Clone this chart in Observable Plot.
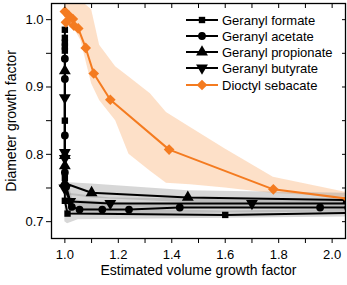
<!DOCTYPE html>
<html><head><meta charset="utf-8">
<script src="https://cdn.jsdelivr.net/npm/d3@7"></script>
<script src="https://cdn.jsdelivr.net/npm/@observablehq/plot@0.6"></script>
<style>html,body{margin:0;padding:0;background:#fff;}</style>
</head><body><div id="chart"></div>
<script>
// ---- data ----
const seriesNames = ["Geranyl formate","Geranyl acetate","Geranyl propionate","Geranyl butyrate","Dioctyl sebacate"];

const formateX = [1.0, 1.0, 1.0, 1.0, 1.0, 1.0, 1.0, 1.0, 1.01, 1.6, 2.06];
const formateY = [0.985, 0.973, 0.966, 0.96, 0.954, 0.85, 0.765, 0.731, 0.712, 0.710, 0.713];

const acetateX = [1.0, 1.0, 1.0, 1.0, 1.005, 1.026, 1.055, 1.14, 1.24, 1.43, 1.955, 2.06];
const acetateY = [0.942, 0.912, 0.828, 0.773, 0.752, 0.722, 0.718, 0.718, 0.718, 0.721, 0.721, 0.721];

const propionateX = [1.0, 1.0, 1.0, 1.0, 1.1, 1.46, 2.06];
const propionateY = [0.924, 0.798, 0.783, 0.757, 0.743, 0.736, 0.732];

const butyrateX = [1.0, 1.0, 1.0, 0.998, 1.02, 1.17, 1.70, 2.06];
const butyrateY = [0.884, 0.803, 0.794, 0.75, 0.73, 0.727, 0.727, 0.727];

const sebacateX = [1.0, 1.015, 1.03, 1.004, 1.034, 1.05, 1.078, 1.108, 1.17, 1.39, 1.78, 2.06];
const sebacateY = [1.012, 1.006, 1.001, 0.996, 0.991, 0.987, 0.958, 0.92, 0.881, 0.807, 0.748, 0.734];

// uncertainty bands
const sebBandX  = [1.0, 1.03, 1.06, 1.1, 1.13, 1.19, 1.24, 1.32, 1.38, 1.47, 1.6, 1.78, 2.06];
const sebBandLo = [0.99, 0.99, 0.969, 0.905, 0.88, 0.85, 0.80, 0.775, 0.757, 0.755, 0.75, 0.742, 0.736];
const sebBandHi = [1.03, 1.03, 1.028, 1.015, 0.962, 0.93, 0.915, 0.89, 0.862, 0.84, 0.808, 0.766, 0.743];

const formateBandX  = [1.0, 1.01, 1.05, 1.6, 2.06];
const formateBandLo = [0.70, 0.697, 0.703, 0.705, 0.707];
const formateBandHi = [0.74, 0.728, 0.72, 0.716, 0.718];
const acetateBandX  = [1.005, 1.03, 1.3, 1.96, 2.06];
const acetateBandLo = [0.735, 0.71, 0.712, 0.714, 0.714];
const acetateBandHi = [0.77, 0.732, 0.726, 0.728, 0.728];
const propBandX  = [1.0, 1.1, 1.46, 2.06];
const propBandLo = [0.74, 0.735, 0.728, 0.726];
const propBandHi = [0.758, 0.756, 0.746, 0.742];
const butBandX  = [1.0, 1.02, 1.17, 1.7, 2.06];
const butBandLo = [0.74, 0.715, 0.72, 0.721, 0.721];
const butBandHi = [0.76, 0.742, 0.735, 0.733, 0.733];

const xTicks = [1.0,1.1,1.2,1.3,1.4,1.5,1.6,1.7,1.8,1.9,2.0];
const yTicks = [0.7,0.75,0.8,0.85,0.9,0.95,1.0];

// ---- build tables ----
const zip = (name, xs, ys) => xs.map((x,i)=>({series:name, x, y:ys[i]}));
const zipBand = (name, xs, lo, hi) => xs.map((x,i)=>({series:name, x, lo:lo[i], hi:hi[i]}));
const blackData = [
  ...zip(seriesNames[0], formateX, formateY),
  ...zip(seriesNames[1], acetateX, acetateY),
  ...zip(seriesNames[2], propionateX, propionateY),
  ...zip(seriesNames[3], butyrateX, butyrateY)
];
const sebData = zip(seriesNames[4], sebacateX, sebacateY);
const grayBands = [
  ...zipBand("f", formateBandX, formateBandLo, formateBandHi),
  ...zipBand("a", acetateBandX, acetateBandLo, acetateBandHi),
  ...zipBand("p", propBandX, propBandLo, propBandHi),
  ...zipBand("b", butBandX, butBandLo, butBandHi)
];
const sebBand = zipBand("s", sebBandX, sebBandLo, sebBandHi);

const triangleDown = {
  draw(context, size) {
    d3.symbolTriangle.draw({
      moveTo:(x,y)=>context.moveTo(x,-y),
      lineTo:(x,y)=>context.lineTo(x,-y),
      closePath:()=>context.closePath()
    }, size);
  }
};
const symbolOf = {
  "Geranyl formate":"square",
  "Geranyl acetate":"circle",
  "Geranyl propionate":"triangle",
  "Geranyl butyrate":triangleDown,
  "Dioctyl sebacate":"diamond2"
};
const colorOf = n => n === "Dioctyl sebacate" ? "#f47b20" : "#000";
const dotR = {"Geranyl formate":3.6,"Geranyl acetate":3.9,"Geranyl propionate":4.4,"Geranyl butyrate":4.4,"Dioctyl sebacate":4.8};

const blackMarks = seriesNames.slice(0,4).map(n =>
  Plot.dot(blackData.filter(d=>d.series===n), {x:"x", y:"y", symbol:()=>symbolOf[n], r:dotR[n], fill:"#000", stroke:"none", clip:true})
);

const chart = Plot.plot({
  width: 347, height: 285,
  marginLeft: 51, marginRight: 2, marginTop: 3, marginBottom: 47,
  x: {domain: [0.95, 2.05]},
  y: {domain: [0.675, 1.024]},
  symbol: {type: "identity"},
  style: {fontFamily: "'Liberation Sans', Arial, sans-serif", fontSize: "13px", background: "#fff", color: "#000"},
  marks: [
    Plot.areaY(sebBand, {x:"x", y1:"lo", y2:"hi", fill:"#f9a560", fillOpacity:0.35, clip:true}),
    Plot.areaY(grayBands, {x:"x", y1:"lo", y2:"hi", z:"series", fill:"#8c8c8c", fillOpacity:0.35, clip:true}),
    Plot.line(blackData, {x:"x", y:"y", z:"series", stroke:"#000", strokeWidth:2, clip:true}),
    ...blackMarks,
    Plot.line(sebData, {x:"x", y:"y", stroke:"#f47b20", strokeWidth:2, clip:true}),
    Plot.dot(sebData, {x:"x", y:"y", symbol:()=>"diamond2", r:dotR["Dioctyl sebacate"], fill:"#f47b20", clip:true}),
    Plot.axisX({ticks: xTicks, tickSize: 5, tickPadding: 6, tickFormat: d => (Math.round(d*10)%2===0 ? d.toFixed(1) : ""), label: null, fontSize: 13}),
    Plot.axisX({anchor:"top", ticks: xTicks, tickSize: -4, tickFormat: () => "", label: null}),
    Plot.axisY({ticks: yTicks, tickSize: 5, tickPadding: 3, tickFormat: d => (Math.round(d*100)%10===0 ? d.toFixed(1) : ""), label: null, fontSize: 13}),
    Plot.axisY({anchor:"right", ticks: yTicks, tickSize: -4, tickFormat: () => "", label: null}),
    Plot.frame({stroke:"#000", strokeWidth:1.3}),
    Plot.text(["Estimated volume growth factor"], {frameAnchor:"bottom", dy: 36, fontSize: 14, fill:"#000", textAnchor:"middle"}),
    Plot.text(["Diameter growth factor"], {frameAnchor:"left", dx: -40, rotate: -90, fontSize: 14, fill:"#000", textAnchor:"middle"})
  ]
});

// legend inside the plot, top-right
const svg = d3.select(chart);
const lg = svg.append("g").attr("font-family","'Liberation Sans', Arial, sans-serif").attr("font-size","13px").attr("text-anchor","start");
const rowY = [20, 36, 52, 68, 85];
seriesNames.forEach((n,i) => {
  const y = rowY[i];
  const c = colorOf(n);
  lg.append("line").attr("x1",186).attr("x2",218).attr("y1",y).attr("y2",y).attr("stroke",c).attr("stroke-width",2);
  const sym = symbolOf[n];
  const t = typeof sym === "string" ? ({square:d3.symbolSquare,circle:d3.symbolCircle,triangle:d3.symbolTriangle,diamond2:d3.symbolDiamond2})[sym] : sym;
  lg.append("path").attr("d", d3.symbol(t, Math.PI*dotR[n]*dotR[n])()).attr("transform",`translate(202,${y})`).attr("fill",c);
  lg.append("text").attr("x",222).attr("y",y).attr("dy","0.36em").attr("fill","#000").attr("text-anchor","start").text(n);
});

document.getElementById("chart").appendChild(chart);
</script>
</body></html>
